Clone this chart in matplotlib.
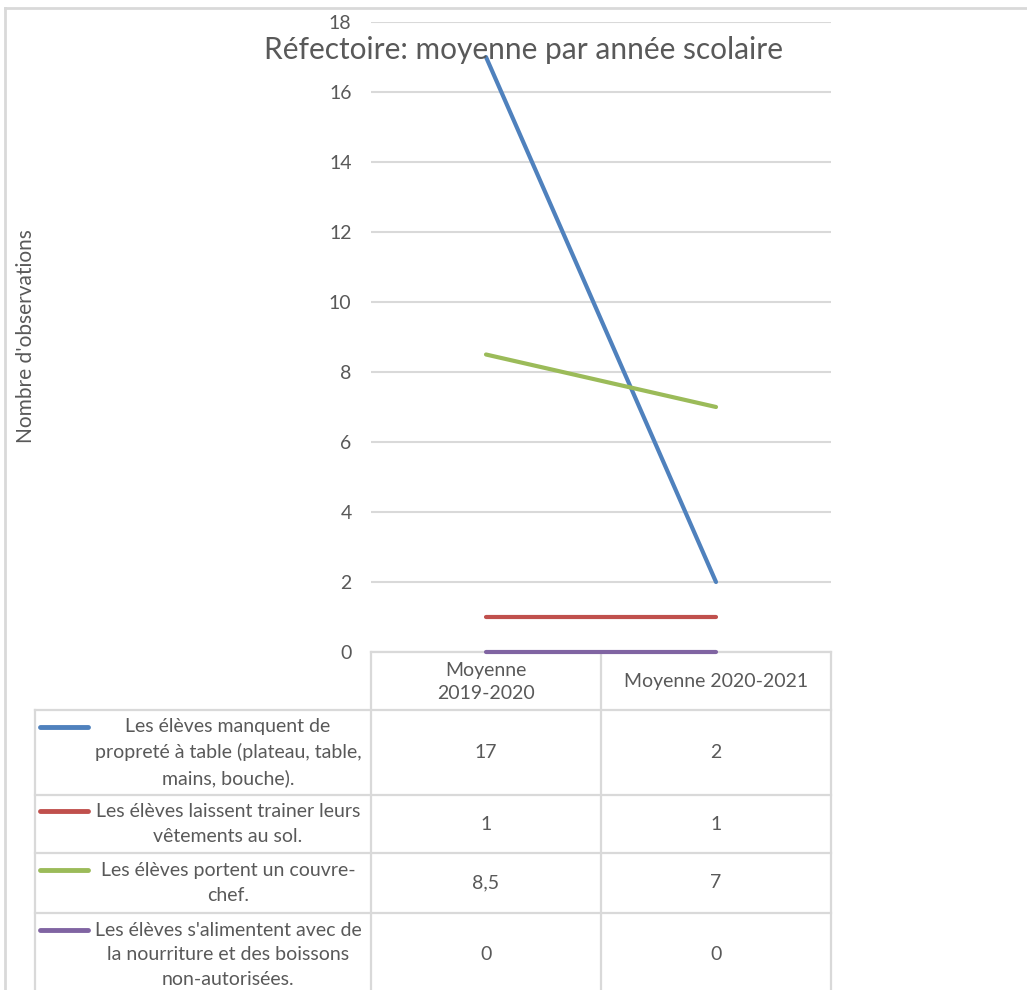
import matplotlib.pyplot as plt
import numpy as np

plt.rcParams['font.family'] = ['Lato', 'DejaVu Sans']

categories = ['Moyenne\n2019-2020', 'Moyenne 2020-2021']
series_labels = [
    'Les élèves manquent de\npropreté à table (plateau, table,\nmains, bouche).',
    'Les élèves laissent trainer leurs\nvêtements au sol.',
    'Les élèves portent un couvre-\nchef.',
    "Les élèves s'alimentent avec de\nla nourriture et des boissons\nnon-autorisées.",
]
values = [
    [17, 2],
    [1, 1],
    [8.5, 7],
    [0, 0],
]
colors = ['#4f81bd', '#c0504d', '#9bbb59', '#8064a2']
yticks = [0, 2, 4, 6, 8, 10, 12, 14, 16, 18]

W, H = 1027, 990
txt = '#595959'
grid = '#d9d9d9'
fs = 14

fig = plt.figure(figsize=(W / 100, H / 100), dpi=100)

# background layer in pixel units for frame and data table
bg = fig.add_axes([0, 0, 1, 1])
bg.set_xlim(0, W)
bg.set_ylim(H, 0)
bg.axis('off')

# outer frame
bg.plot([5, W], [8, 8], color=grid, lw=2)
bg.plot([5, 5], [8, H], color=grid, lw=2)

# chart area
x0, x1, ybot, ytop = 371, 831, 652, 22
ax = fig.add_axes([x0 / W, 1 - ybot / H, (x1 - x0) / W, (ybot - ytop) / H])
ax.set_xlim(0, 2)
ax.set_ylim(0, 18)
ax.set_yticks(yticks)
ax.set_xticks([])
ax.grid(axis='y', color=grid, lw=1.5)
ax.set_axisbelow(True)
for s in ax.spines.values():
    s.set_visible(False)
ax.tick_params(axis='y', length=0, pad=14, labelsize=fs, labelcolor=txt)
ax.patch.set_alpha(0)

xs = np.arange(len(categories)) + 0.5
for vals, c in zip(values, colors):
    ax.plot(xs, vals, color=c, lw=3, solid_capstyle='round', clip_on=False, zorder=3)

fig.text(523 / W, 1 - 50 / H, 'Réfectoire: moyenne par année scolaire',
         ha='center', va='center', fontsize=21.5, color=txt)
fig.text(26 / W, 1 - 336 / H, "Nombre d'observations", rotation=90,
         ha='center', va='center', fontsize=15, color=txt)

# data table
col_x = [35, 371, 601, 831]
row_y = [652, 710, 795, 853, 913, 1000]
lw_t = 1.6
bg.plot([col_x[1], col_x[3]], [row_y[0], row_y[0]], color=grid, lw=lw_t)
for x in col_x[1:]:
    bg.plot([x, x], [row_y[0], H], color=grid, lw=lw_t)
bg.plot([col_x[0], col_x[0]], [row_y[1], H], color=grid, lw=lw_t)
for y in row_y[1:5]:
    bg.plot([col_x[0], col_x[3]], [y, y], color=grid, lw=lw_t)

for j, cat in enumerate(categories):
    cx = (col_x[j + 1] + col_x[j + 2]) / 2
    bg.text(cx, (row_y[0] + row_y[1]) / 2 + 1, cat, ha='center', va='center',
            fontsize=fs, color=txt, linespacing=1.45)

line_h = 25.5
for i, (lab, vals, c) in enumerate(zip(series_labels, values, colors)):
    top, bot = row_y[i + 1], row_y[i + 2]
    n = lab.count('\n') + 1
    cy = top + (bot - top) / 2 if i < 3 else 955
    first_y = cy - (n - 1) * line_h / 2
    bg.plot([40, 88], [first_y, first_y], color=c, lw=3.5, solid_capstyle='round')
    bg.text(228, cy, lab, ha='center', va='center', fontsize=fs,
            color=txt, linespacing=1.55)
    for j, v in enumerate(vals):
        cx = (col_x[j + 1] + col_x[j + 2]) / 2
        s = ('%g' % v).replace('.', ',')
        bg.text(cx, cy, s, ha='center', va='center', fontsize=fs, color=txt)

fig.savefig('out.png', dpi=100)
